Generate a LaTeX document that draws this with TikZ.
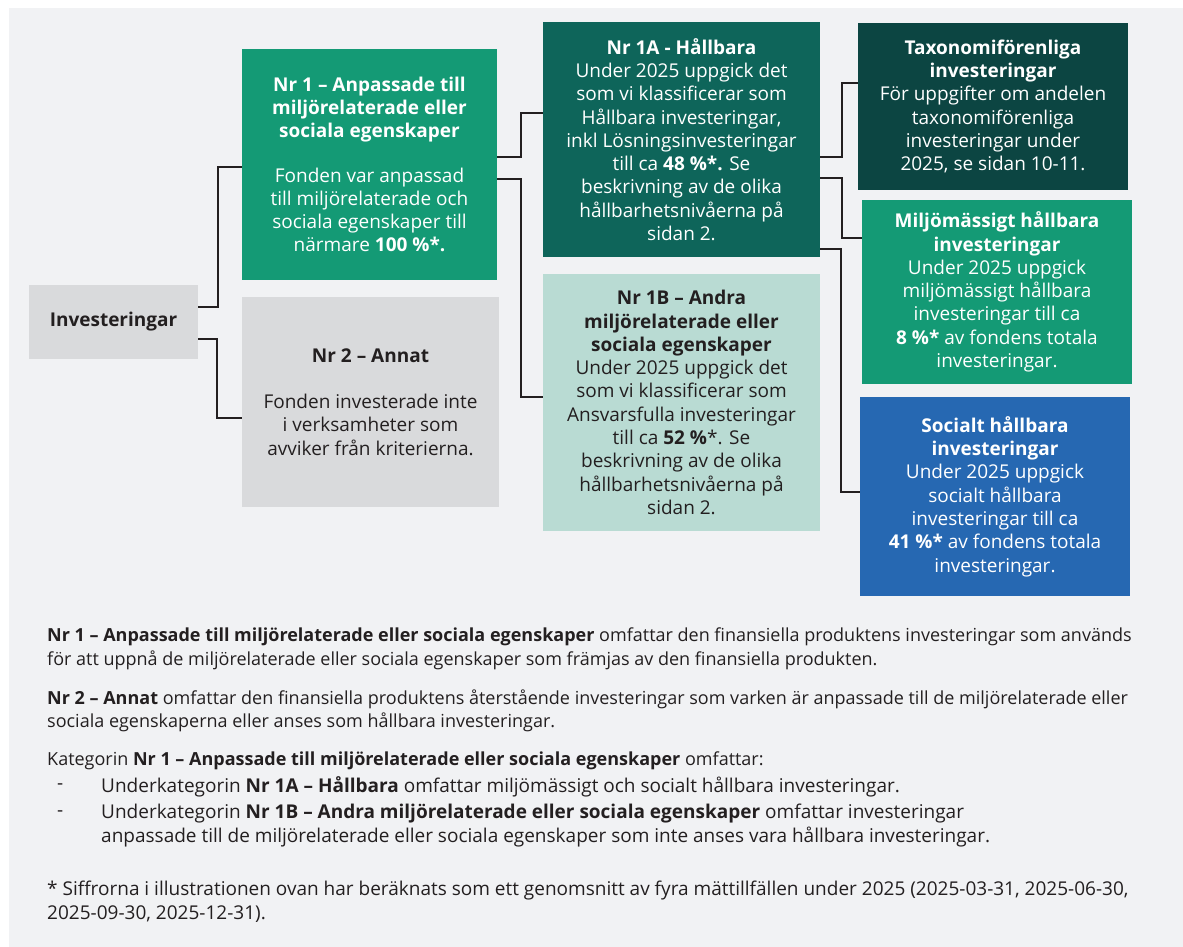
\documentclass[tikz,border=0pt]{standalone}
\usepackage{fontspec}
\setmainfont{Open Sans}
\usepackage{tikz}
\usetikzlibrary{positioning}

\definecolor{panelgrey}{HTML}{F1F2F4}
\definecolor{boxgrey}{HTML}{D9DADC}
\definecolor{fondgreen}{HTML}{149A75}
\definecolor{darkteal}{HTML}{0E655A}
\definecolor{deepteal}{HTML}{0C4542}
\definecolor{paleteal}{HTML}{B9DBD3}
\definecolor{socblue}{HTML}{2668B2}
\definecolor{inkdark}{HTML}{231F20}

\begin{document}
\begin{tikzpicture}[y=-1pt,x=1pt,
	box/.style={rectangle, inner sep=0pt, align=center, font=\fontsize{19}{23.3}\selectfont},
	lightbox/.style={box, fill=#1, text=inkdark},
	darkbox/.style={box, fill=#1, text=white},
	link/.style={draw=inkdark, line width=1.8pt},
	note/.style={anchor=west, inner sep=0pt, text=inkdark, font=\fontsize{18}{23}\selectfont},
	widenote/.style={note, font=\fontsize{19}{23}\selectfont}]
	\useasboundingbox (0,0) rectangle (1183,947);
	\fill[white] (0,0) rectangle (1183,947);
	\fill[panelgrey] (9,8) rectangle (1183,947);

	% first column
	\node[lightbox=boxgrey, minimum width=169, minimum height=74] (inv) at (113.5,322) {\textbf{Investeringar}};

	% second column
	\node[darkbox=fondgreen, minimum width=255, minimum height=231] (nr1) at (369.5,164.5)
		{\textbf{Nr 1 – Anpassade till}\\\textbf{miljörelaterade eller}\\\textbf{sociala egenskaper}\\[21pt]
		Fonden var anpassad\\till miljörelaterade och\\sociala egenskaper till\\närmare \textbf{100 \%*.}};
	\node[lightbox=boxgrey, minimum width=257, minimum height=210] (nr2) at (370.5,402)
		{\textbf{Nr 2 – Annat}\\[23pt]
		Fonden investerade inte\\i verksamheter som\\avviker från kriterierna.};

	% third column
	\node[darkbox=darkteal, minimum width=277, minimum height=235] (nr1a) at (681.5,139.5)
		{\textbf{Nr 1A - Hållbara}\\Under 2025 uppgick det\\som vi klassificerar som\\Hållbara investeringar,\\inkl Lösningsinvesteringar\\till ca \textbf{48 \%*.} Se\\beskrivning av de olika\\hållbarhetsnivåerna på\\sidan 2.};
	\node[lightbox=paleteal, minimum width=277, minimum height=257] (nr1b) at (681.5,402.5)
		{\textbf{Nr 1B – Andra}\\\textbf{miljörelaterade eller}\\\textbf{sociala egenskaper}\\Under 2025 uppgick det\\som vi klassificerar som\\Ansvarsfulla investeringar\\till ca \textbf{52 \%}*. Se\\beskrivning av de olika\\hållbarhetsnivåerna på\\sidan 2.};

	% fourth column
	\node[darkbox=deepteal, minimum width=270, minimum height=167] (tax) at (993,106.5)
		{\textbf{Taxonomiförenliga}\\\textbf{investeringar}\\För uppgifter om andelen\\taxonomiförenliga\\investeringar under\\2025, se sidan 10-11.};
	\node[darkbox=fondgreen, minimum width=270, minimum height=184] (milj) at (997,292)
		{\textbf{Miljömässigt hållbara}\\\textbf{investeringar}\\Under 2025 uppgick\\miljömässigt hållbara\\investeringar till ca\\\textbf{8 \%*} av fondens totala\\investeringar.};
	\node[darkbox=socblue, minimum width=270, minimum height=199] (soc) at (995,496.5)
		{\textbf{Socialt hållbara}\\\textbf{investeringar}\\Under 2025 uppgick\\socialt hållbara\\investeringar till ca\\\textbf{41 \%*} av fondens totala\\investeringar.};

	% connectors
	\draw[link] ([yshift=15pt]inv.east) -- ++(20,0) |- ([yshift=-2.5pt]nr1.west);
	\draw[link] ([yshift=-17pt]inv.east) -- ++(19,0) |- ([yshift=-16pt]nr2.west);
	\draw[link] ([yshift=7.5pt]nr1.east) -- ++(24,0) |- ([yshift=26.5pt]nr1a.west);
	\draw[link] ([yshift=-14.5pt]nr1.east) -- ++(24,0) |- ([yshift=5.5pt]nr1b.west);
	\draw[link] ([yshift=-17.5pt]nr1a.east) -- ++(22,0) |- ([yshift=23.5pt]tax.west);
	\draw[link] ([yshift=-38.5pt]nr1a.east) -- ++(22,0) |- ([yshift=54pt]milj.west);
	\draw[link] ([yshift=-109.5pt]nr1a.east) -- ++(21,0) |- ([yshift=4.5pt]soc.west);

	% notes under the chart
	\node[note] (n1) at (47,637) {\textbf{Nr 1 – Anpassade till miljörelaterade eller sociala egenskaper} omfattar den finansiella produktens investeringar som används};
	\node[note] (n2) at (47,660) {för att uppnå de miljörelaterade eller sociala egenskaper som främjas av den finansiella produkten.};
	\node[note] (n3) at (47,699) {\textbf{Nr 2 – Annat} omfattar den finansiella produktens återstående investeringar som varken är anpassade till de miljörelaterade eller};
	\node[note] (n4) at (47,722) {sociala egenskaperna eller anses som hållbara investeringar.};
	\node[note] (n5) at (47,761) {Kategorin \textbf{Nr 1 – Anpassade till miljörelaterade eller sociala egenskaper} omfattar:};
	\node[widenote] (d1) at (57,787) {-};
	\node[widenote] (n6) at (101,787) {Underkategorin \textbf{Nr 1A – Hållbara} omfattar miljömässigt och socialt hållbara investeringar.};
	\node[widenote] (d2) at (57,814) {-};
	\node[widenote] (n7) at (101,814) {Underkategorin \textbf{Nr 1B – Andra miljörelaterade eller sociala egenskaper} omfattar investeringar};
	\node[widenote] (n8) at (101,837) {anpassade till de miljörelaterade eller sociala egenskaper som inte anses vara hållbara investeringar.};
	\node[widenote] (n9) at (47,891) {* Siffrorna i illustrationen ovan har beräknats som ett genomsnitt av fyra mättillfällen under 2025 (2025-03-31, 2025-06-30,};
	\node[widenote] (n10) at (47,914) {2025-09-30, 2025-12-31).};
\end{tikzpicture}
\end{document}
